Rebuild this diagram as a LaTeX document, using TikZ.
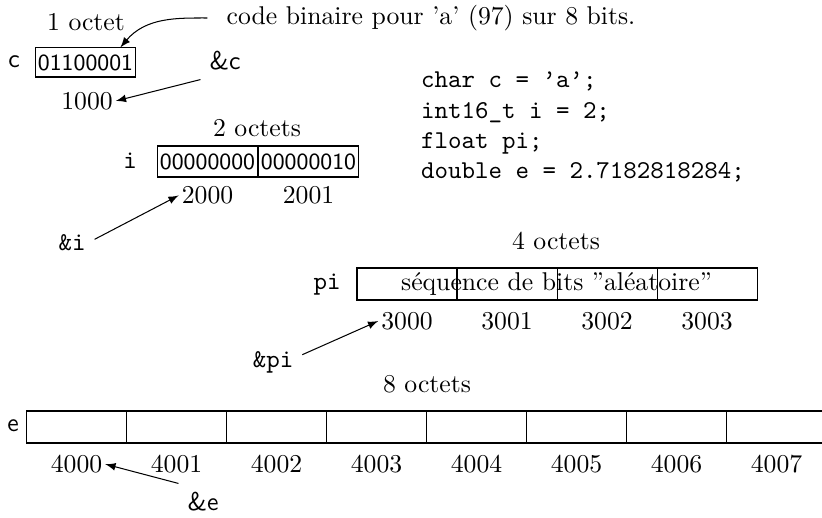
\documentclass[tikz,border=0pt]{standalone}
\usetikzlibrary{positioning}
\begin{document}
\begin{tikzpicture}[x=1.368cm,y=1.368cm,
  cell/.style={draw, minimum width=1.368cm, minimum height=0.438cm, inner sep=0pt, font=\small\sffamily},
  addr/.style={inner xsep=1pt}]
\useasboundingbox (0,0) rectangle (8.22,5.17);
% char c
\node (oct1) at (0.86,4.95) {1 octet};
\node[font=\sffamily] (cname) at (0.14,4.55) {c};
\node[cell, minimum width=1.38cm, minimum height=0.397cm] (cbox) at (0.855,4.545) {01100001};
\node (note) at (4.31,4.99) {code binaire pour 'a' (97) sur 8 bits.};
\draw[-latex, shorten <=4pt] (note.west) to[out=180,in=50] ([xshift=-2.2mm]cbox.north east);
\node[font=\sffamily] (camp) at (2.25,4.56) {\&c};
\node[addr] (caddr) at (0.87,4.16) {1000};
\draw[-latex] (camp.south west) -- (caddr.east);
% declarations
\node[font=\ttfamily, align=left] (code) at (5.83,3.90) {char c = ’a’;\\[-0.3pt]int16\_t i = 2;\\[-0.3pt]float pi;\\[-0.3pt]double e = 2.7182818284;};
% int16_t i
\node (oct2) at (2.57,3.89) {2 octets};
\node[font=\ttfamily] (iname) at (1.30,3.56) {i};
\node[cell, minimum width=1.38cm, minimum height=0.424cm] (icell0) at (2.075,3.555) {00000000};
\node[cell, minimum width=1.38cm, minimum height=0.424cm] (icell1) at (3.085,3.555) {00000010};
\node[addr, below=0pt of icell0] (iaddr0) {2000};
\node[addr, below=0pt of icell1] (iaddr1) {2001};
\node[font=\ttfamily] (iamp) at (0.72,2.74) {\&i};
\draw[-latex] ([yshift=0.5mm]iamp.east) -- (iaddr0.west);
% float pi
\node (oct4) at (5.56,2.76) {4 octets};
\node[font=\ttfamily] (piname) at (3.27,2.32) {pi};
\node[cell] (picell0) at (4.07,2.33) {};
\node[cell] (picell1) at (5.07,2.33) {};
\node[cell] (picell2) at (6.07,2.33) {};
\node[cell] (picell3) at (7.07,2.33) {};
\node (pitext) at (5.565,2.33) {séquence de bits ''aléatoire''};
\node[addr, below=1pt of picell0] (piaddr0) {3000};
\node[addr, below=1pt of picell1] (piaddr1) {3001};
\node[addr, below=1pt of picell2] (piaddr2) {3002};
\node[addr, below=1pt of picell3] (piaddr3) {3003};
\node[font=\ttfamily] (piamp) at (2.73,1.55) {\&pi};
\draw[-latex] ([yshift=1mm]piamp.east) -- (piaddr0.west);
% double e
\node (oct8) at (4.27,1.33) {8 octets};
\node[font=\sffamily] (ename) at (0.13,0.91) {e};
\node[cell] (ecell0) at (0.765,0.90) {};
\node[cell] (ecell1) at (1.765,0.90) {};
\node[cell] (ecell2) at (2.765,0.90) {};
\node[cell] (ecell3) at (3.765,0.90) {};
\node[cell] (ecell4) at (4.765,0.90) {};
\node[cell] (ecell5) at (5.765,0.90) {};
\node[cell] (ecell6) at (6.765,0.90) {};
\node[cell] (ecell7) at (7.765,0.90) {};
\node[addr, below=1pt of ecell0] (eaddr0) {4000};
\node[addr, below=1pt of ecell1] (eaddr1) {4001};
\node[addr, below=1pt of ecell2] (eaddr2) {4002};
\node[addr, below=1pt of ecell3] (eaddr3) {4003};
\node[addr, below=1pt of ecell4] (eaddr4) {4004};
\node[addr, below=1pt of ecell5] (eaddr5) {4005};
\node[addr, below=1pt of ecell6] (eaddr6) {4006};
\node[addr, below=1pt of ecell7] (eaddr7) {4007};
\node[font=\sffamily] (eamp) at (2.03,0.15) {\&e};
\draw[-latex] (eamp.north west) -- (eaddr0.east);
\end{tikzpicture}
\end{document}
